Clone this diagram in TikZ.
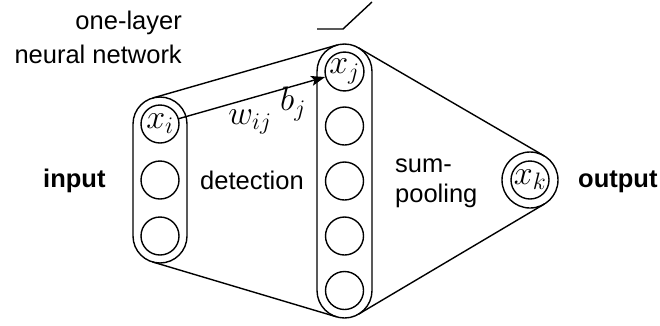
\documentclass[tikz,border=0pt]{standalone}
\usepackage{fix-cm}
\usepackage{fontspec}
\setmainfont{Liberation Sans}
\usetikzlibrary{calc,arrows.meta}
\begin{document}
\begin{tikzpicture}[x=1pt,y=1pt,
  unit/.style={circle,draw,line width=1.4pt,minimum size=38pt,inner sep=0pt,font=\fontsize{34}{36}\selectfont},
  mlbl/.style={inner sep=0pt,font=\fontsize{34}{36}\selectfont},
  lbl/.style={font=\fontsize{25.5}{34}\selectfont,inner sep=0pt},
  blbl/.style={font=\fontsize{25.5}{34}\selectfont\bfseries,inner sep=0pt},
  edge/.style={line width=1.4pt},
  pill/.style={draw,line width=1.4pt}]
\useasboundingbox (0,0) rectangle (660,-325);
% columns
\draw[pill,rounded corners=27pt] (133,-97) rectangle (187,-263);
\draw[pill,rounded corners=27.5pt] (317,-44) rectangle (372,-318);
% input units
\node[unit] (xi) at (160,-124) {$x_i$};
\node[unit] (i2) at (160,-180) {};
\node[unit] (i3) at (160,-236) {};
% hidden units
\node[unit] (xj) at (344.5,-71.5) {$x_j$};
\node[unit] (h2) at (344.5,-126) {};
\node[unit] (h3) at (344.5,-181) {};
\node[unit] (h4) at (344.5,-236) {};
\node[unit] (h5) at (344.5,-290.5) {};
% output
\node[unit] (xk) at (530,-180) {$x_k$};
\node[circle,draw,line width=1.4pt,minimum size=56pt,inner sep=0pt] (xkout) at (530,-180) {};
% arc centres of the columns
\coordinate (iT) at (160,-124);
\coordinate (iB) at (160,-236);
\coordinate (mT) at (344.5,-71.5);
\coordinate (mB) at (344.5,-290.5);
% envelope lines
\draw[edge] ($(iT)!27pt!90:(mT)$) -- ($(mT)!27.5pt!-90:(iT)$);
\draw[edge] ($(iB)!27pt!-90:(mB)$) -- ($(mB)!27.5pt!90:(iB)$);
\draw[edge] ($(mT)!27.5pt!90:(xkout)$) -- ($(xkout)!28pt!-90:(mT)$);
\draw[edge] ($(mB)!27.5pt!-90:(xkout)$) -- ($(xkout)!28pt!90:(mB)$);
% weight arrow
\draw[edge,-{Stealth[length=14pt,width=10pt,inset=3pt]}] (xi) -- (xj);
\node[mlbl] (w) at (250,-122) {$w_{ij}$};
\node[mlbl] (b) at (293,-104) {$b_j$};
% activation icon
\draw[edge] (317,-29) -- (343,-29) -- (372,-2);
% texts
\node[lbl,anchor=base east] (t1) at (182,-29) {one-layer};
\node[lbl,anchor=base east] (t2) at (182,-63) {neural network};
\node[blbl,anchor=base west] (in) at (43,-187) {input};
\node[lbl,anchor=base west] (det) at (200,-189) {detection};
\node[lbl,anchor=base west] (sum) at (395,-172) {sum-};
\node[lbl,anchor=base west] (pool) at (395,-202) {pooling};
\node[blbl,anchor=base west] (out) at (578,-187) {output};
\end{tikzpicture}
\end{document}
